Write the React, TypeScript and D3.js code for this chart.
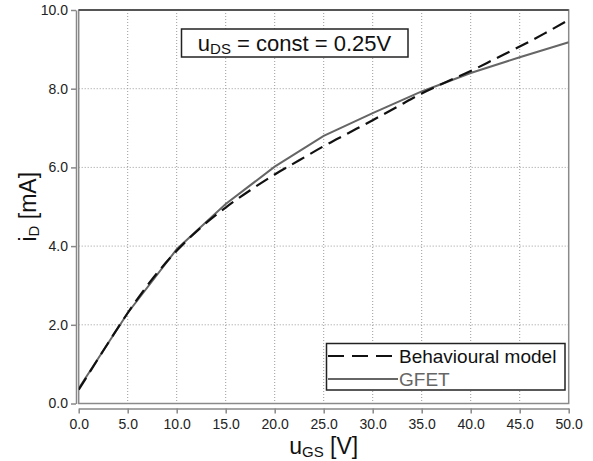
import { useEffect, useRef } from 'react'
import * as d3 from 'd3'

const X_TICKS = [0, 5, 10, 15, 20, 25, 30, 35, 40, 45, 50]
const Y_TICKS = [0, 2, 4, 6, 8, 10]

// Behavioural model (dashed)
const MODEL_U = [0, 2.5, 5, 7.5, 10, 12.5, 15, 17.5, 20, 22.5, 25, 27.5, 30, 32.5, 35, 37.5, 40, 42.5, 45, 47.5, 50]
const MODEL_I = [0.35, 1.34, 2.3, 3.16, 3.88, 4.48, 4.98, 5.42, 5.82, 6.18, 6.54, 6.87, 7.2, 7.54, 7.88, 8.17, 8.45, 8.76, 9.07, 9.4, 9.75]

// GFET measurement (grey solid)
const GFET_U = [0, 5, 10, 15, 20, 25, 30, 35, 40, 45, 50]
const GFET_I = [0.38, 2.3, 3.92, 5.07, 6.02, 6.8, 7.38, 7.93, 8.4, 8.8, 9.18]

const W = 593
const H = 461
const PLOT = { left: 78.7, right: 568.7, top: 10, bottom: 403.5 }
const FONT = '"Liberation Sans", Arial, sans-serif'
const DASH = '14,7'

type Pt = [number, number]

export default function App() {
  const svgRef = useRef<SVGSVGElement>(null)

  useEffect(() => {
    const svg = d3.select(svgRef.current)
    svg.selectAll('*').remove()

    const x = d3.scaleLinear([0, 50], [PLOT.left, PLOT.right])
    const y = d3.scaleLinear([0, 10], [PLOT.bottom, PLOT.top])

    svg.append('rect').attr('width', W).attr('height', H).attr('fill', '#fff')

    // ── Grid ──────────────────────────────────────────────────────────
    const grid = svg.append('g').attr('stroke', '#9a9a9a').attr('stroke-width', 1).attr('stroke-dasharray', '1,2')
    X_TICKS.slice(1, -1).forEach(t => {
      grid.append('line').attr('x1', x(t)).attr('x2', x(t)).attr('y1', PLOT.top).attr('y2', PLOT.bottom)
    })
    Y_TICKS.slice(1, -1).forEach(t => {
      grid.append('line').attr('x1', PLOT.left).attr('x2', PLOT.right).attr('y1', y(t)).attr('y2', y(t))
    })

    // ── Frame ─────────────────────────────────────────────────────────
    svg.append('rect')
      .attr('x', PLOT.left).attr('y', PLOT.top)
      .attr('width', PLOT.right - PLOT.left).attr('height', PLOT.bottom - PLOT.top)
      .attr('fill', 'none').attr('stroke', '#8a8a8a').attr('stroke-width', 1.5)
    svg.append('line')
      .attr('x1', PLOT.left).attr('x2', PLOT.right).attr('y1', PLOT.top).attr('y2', PLOT.top)
      .attr('stroke', '#555').attr('stroke-width', 2)

    // ── Axes (offset) ─────────────────────────────────────────────────
    svg.append('g')
      .attr('transform', `translate(0,${PLOT.bottom + 5})`)
      .call(d3.axisBottom(x).tickValues(X_TICKS).tickSize(5).tickSizeOuter(0).tickPadding(6).tickFormat(d3.format('.1f')))
      .call(ag => ag.select('.domain').attr('stroke', '#888').attr('stroke-width', 1.5))
      .call(ag => ag.selectAll('.tick line').attr('stroke', '#888').attr('stroke-width', 1.5))
      .call(ag => ag.selectAll('text').attr('fill', '#222').attr('font-size', 14).attr('font-family', FONT))

    svg.append('g')
      .attr('transform', `translate(${PLOT.left - 2.7},0)`)
      .call(d3.axisLeft(y).tickValues(Y_TICKS).tickSize(5).tickSizeOuter(0).tickPadding(3).tickFormat(d3.format('.1f')))
      .call(ag => ag.select('.domain').attr('stroke', '#888').attr('stroke-width', 1.5))
      .call(ag => ag.selectAll('.tick line').attr('stroke', '#888').attr('stroke-width', 1.5))
      .call(ag => ag.selectAll('text').attr('fill', '#222').attr('font-size', 14).attr('font-family', FONT))

    // ── Axis titles ───────────────────────────────────────────────────
    const xt = svg.append('text')
      .attr('x', (PLOT.left + PLOT.right) / 2).attr('y', 454)
      .attr('text-anchor', 'middle').attr('font-size', 23).attr('font-family', FONT).attr('fill', '#111')
    xt.append('tspan').text('u')
    xt.append('tspan').attr('font-size', 15).attr('dy', 3).text('GS')
    xt.append('tspan').attr('dy', -3).text(' [V]')

    const yt = svg.append('text')
      .attr('transform', `translate(36,${(PLOT.top + PLOT.bottom) / 2}) rotate(-90)`)
      .attr('text-anchor', 'middle').attr('font-size', 23).attr('font-family', FONT).attr('fill', '#111')
    yt.append('tspan').text('i')
    yt.append('tspan').attr('font-size', 15).attr('dy', 3).text('D')
    yt.append('tspan').attr('dy', -3).text(' [mA]')

    // ── Curves ────────────────────────────────────────────────────────
    const clip = svg.append('defs').append('clipPath').attr('id', 'plotclip')
    clip.append('rect').attr('x', PLOT.left).attr('y', PLOT.top)
      .attr('width', PLOT.right - PLOT.left).attr('height', PLOT.bottom - PLOT.top)

    const gfet: Pt[] = GFET_U.map((u, i) => [u, GFET_I[i]])
    const model: Pt[] = MODEL_U.map((u, i) => [u, MODEL_I[i]])

    svg.append('path')
      .attr('clip-path', 'url(#plotclip)')
      .attr('d', d3.line<Pt>().x(d => x(d[0])).y(d => y(d[1]))(gfet))
      .attr('fill', 'none').attr('stroke', '#666').attr('stroke-width', 2)

    svg.append('path')
      .attr('clip-path', 'url(#plotclip)')
      .attr('d', d3.line<Pt>().x(d => x(d[0])).y(d => y(d[1])).curve(d3.curveMonotoneX)(model))
      .attr('fill', 'none').attr('stroke', '#111').attr('stroke-width', 2.2)
      .attr('stroke-dasharray', DASH)

    // ── Annotation ────────────────────────────────────────────────────
    svg.append('rect')
      .attr('x', 181.5).attr('y', 29).attr('width', 226.5).attr('height', 28)
      .attr('fill', '#fff').attr('stroke', '#222').attr('stroke-width', 1.5)
    const ann = svg.append('text')
      .attr('x', 294.5).attr('y', 51)
      .attr('text-anchor', 'middle').attr('font-size', 22).attr('font-family', FONT).attr('fill', '#111')
    ann.append('tspan').text('u')
    ann.append('tspan').attr('font-size', 15).attr('dy', 3).text('DS')
    ann.append('tspan').attr('dy', -3).text(' = const = 0.25V')

    // ── Legend ────────────────────────────────────────────────────────
    svg.append('rect')
      .attr('x', 326.5).attr('y', 343.5).attr('width', 238.5).attr('height', 46.5)
      .attr('fill', '#fff').attr('stroke', '#222').attr('stroke-width', 1.5)
    const legend = [
      { label: 'Behavioural model', color: '#111', text: '#111', dash: '16,8', y: 356 },
      { label: 'GFET', color: '#666', text: '#666', dash: null, y: 379 },
    ]
    legend.forEach(l => {
      svg.append('line')
        .attr('x1', 328).attr('x2', 398).attr('y1', l.y).attr('y2', l.y)
        .attr('stroke', l.color).attr('stroke-width', 2)
        .attr('stroke-dasharray', l.dash)
      svg.append('text')
        .attr('x', 399).attr('y', l.y + 6.5)
        .attr('font-size', 19).attr('font-family', FONT).attr('fill', l.text)
        .text(l.label)
    })
  }, [])

  return (
    <svg ref={svgRef} width={W} height={H} style={{ display: 'block', position: 'absolute', left: 0, top: 0 }} />
  )
}
